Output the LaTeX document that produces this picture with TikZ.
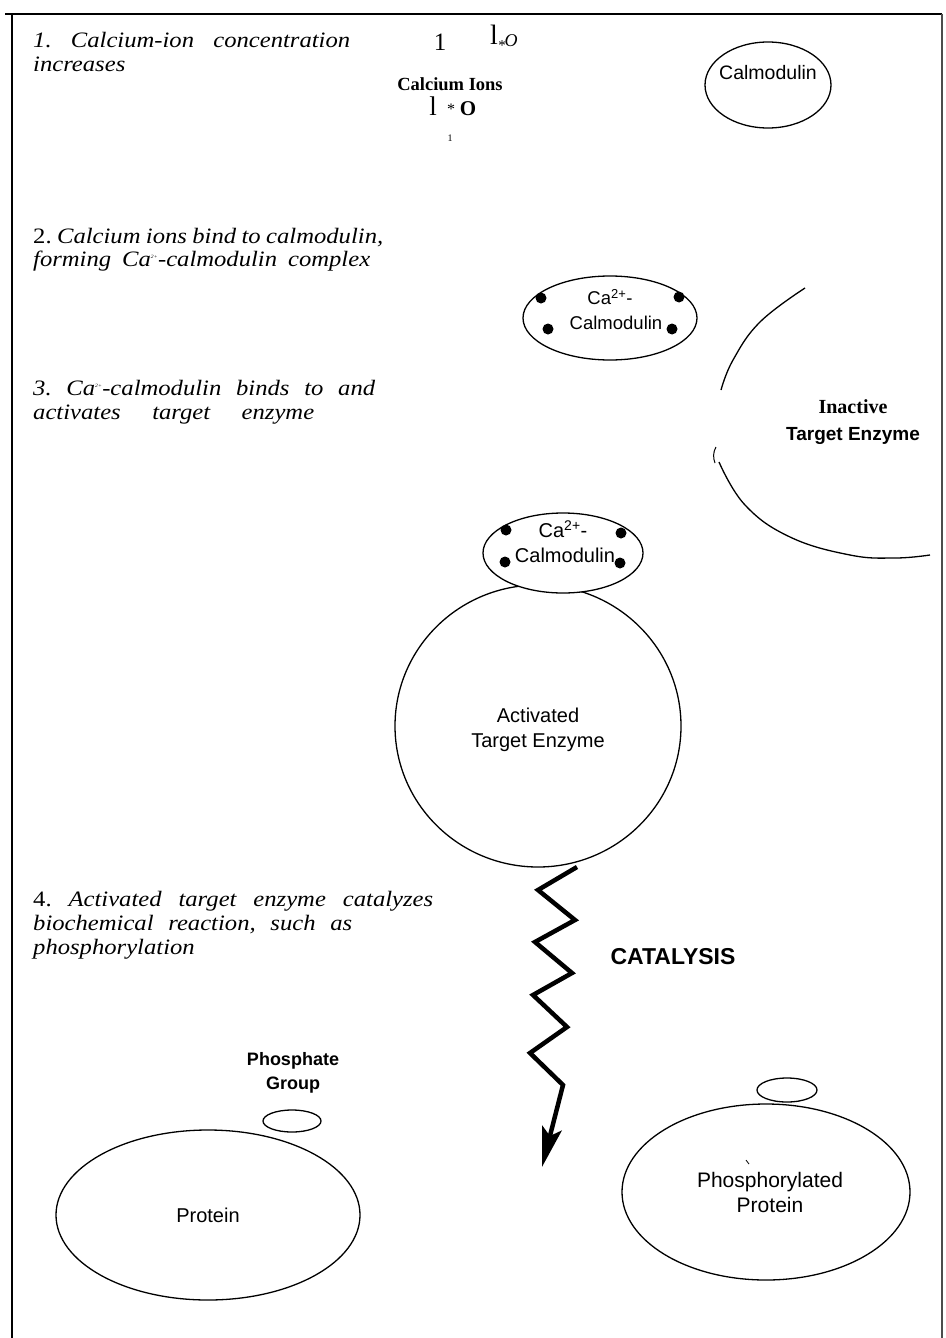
\documentclass[tikz,border=0pt]{standalone}
\usepackage{fontspec}
\setmainfont{Liberation Serif}
\setsansfont{Liberation Sans}
\newfontfamily\stepfont[FakeStretch=1.12]{Liberation Serif}
\usetikzlibrary{shapes.geometric,arrows.meta}
\newcommand{\wline}[2]{\makebox[#1pt][s]{#2}}
\frenchspacing
\begin{document}
\begin{tikzpicture}[x=1pt,y=-1pt,
  stepline/.style={anchor=base west, inner sep=0, font=\stepfont\fontsize{22}{23}\selectfont\itshape\frenchspacing},
  lbl/.style={font=\sffamily\fontsize{18.5}{24}\selectfont, inner sep=0, align=center},
  blob/.style={draw, line width=1.3, ellipse, inner sep=0, fill=white},
  dotc/.style={circle, fill=black, inner sep=0, minimum size=11},
  frameline/.style={line width=1.2}
]
\useasboundingbox (0,0) rectangle (945,1338);
% frame
\coordinate (tl) at (5,14); \coordinate (tr) at (942,14);
\coordinate (lt) at (12,14); \coordinate (lb) at (12,1338);
\coordinate (rb) at (942,1338);
\draw[frameline] (tl) -- (tr);
\draw[frameline] (lt) -- (lb);
\draw[frameline, black!70] (tr) -- (rb);

% step texts
\node[stepline] (s1a) at (33,48) {\wline{317}{1. Calcium-ion concentration}};
\node[stepline] (s1b) at (33,71) {increases};
\node[stepline] (s2a) at (33,243) {\wline{350}{\upshape 2.\itshape{} Calcium ions bind to calmodulin,}};
\node[stepline] (s2b) at (33,266) {\wline{337}{forming Ca\textsuperscript{\tiny 2+}-calmodulin complex}};
\node[stepline] (s3a) at (33,395) {\wline{342}{3. Ca\textsuperscript{\tiny 2+}-calmodulin binds to and}};
\node[stepline] (s3b) at (33,419) {\wline{281}{activates target enzyme}};
\node[stepline] (s4a) at (33,906) {\wline{400}{\upshape 4.\itshape{} Activated target enzyme catalyzes}};
\node[stepline] (s4b) at (33,930) {\wline{319}{biochemical reaction, such as}};
\node[stepline] (s4c) at (33,954) {phosphorylation};

% calcium ions
\node[anchor=base, inner sep=0, font=\fontsize{25}{25}\selectfont] (i1) at (440,51) {1};
\node[anchor=base, inner sep=0, font=\fontsize{28}{28}\selectfont] (i2) at (494,45) {l};
\node[anchor=base, inner sep=0, font=\fontsize{15}{15}\selectfont] (i3) at (502,51) {*};
\node[anchor=base, inner sep=0, font=\fontsize{18}{18}\selectfont\itshape] (i4) at (511,47) {O};
\node[anchor=base, inner sep=0, font=\fontsize{18.5}{18}\selectfont\bfseries] (cions) at (450,90) {Calcium Ions};
\node[anchor=base, inner sep=0, font=\fontsize{27}{27}\selectfont] (i5) at (433,115) {l};
\node[anchor=base, inner sep=0, font=\fontsize{16}{16}\selectfont] (i6) at (451,114) {*};
\node[anchor=base, inner sep=0, font=\fontsize{21}{21}\selectfont\bfseries] (i7) at (468,115) {O};
\node[anchor=base, inner sep=0, font=\fontsize{10}{10}\selectfont] (i8) at (450,141) {1};

% calmodulin
\node[blob, minimum width=126, minimum height=86] (calm) at (768,85) {};
\node[lbl, font=\sffamily\fontsize{19.5}{24}\selectfont] (calmt) at (768,73) {Calmodulin};

% Ca-calmodulin complex 1
\node[blob, minimum width=174, minimum height=84] (cc1) at (610,318) {};
\node[lbl] (cc1a) at (610,297) {Ca\textsuperscript{2+}-};
\node[lbl] (cc1b) at (616,323) {Calmodulin};
\node[dotc] (d1) at (541,298) {};
\node[dotc] (d2) at (679,297) {};
\node[dotc] (d3) at (548,329) {};
\node[dotc] (d4) at (672,329) {};

% inactive target enzyme
\draw[line width=1.3] plot[smooth, tension=0.7] coordinates {(805,288) (760,322) (733,360) (721,390)};
\draw[line width=1] (716,447) .. controls (713,452) and (713,458) .. (715,463);
\draw[line width=1.3] plot[smooth, tension=0.7] coordinates {(719,462) (745,505) (790,537) (850,555) (895,558) (930,555)};
\node[anchor=base, inner sep=0, font=\fontsize{20}{20}\selectfont\bfseries] (inact) at (853,413) {Inactive};
\node[anchor=base, inner sep=0, font=\sffamily\bfseries\fontsize{19}{19}\selectfont] (inact2) at (853,440) {Target\ Enzyme};

% activated target enzyme with complex
\node[blob, minimum width=286, minimum height=282] (act) at (538,726) {};
\node[lbl, font=\sffamily\fontsize{20}{25}\selectfont] (actt) at (538,730) {Activated\\Target Enzyme};
\node[blob, minimum width=160, minimum height=80] (cc2) at (563,553) {};
\node[lbl, font=\sffamily\fontsize{20}{24}\selectfont] (cc2a) at (563,529) {Ca\textsuperscript{2+}-};
\node[lbl, font=\sffamily\fontsize{20}{24}\selectfont] (cc2b) at (565,555) {Calmodulin};
\node[dotc] (e1) at (506,530) {};
\node[dotc] (e2) at (621,533) {};
\node[dotc] (e3) at (505,562) {};
\node[dotc] (e4) at (620,563) {};

% catalysis zigzag
\coordinate (zend) at (542,1167);
\draw[line width=4.5, line join=miter, -{Stealth[length=40, width=20, inset=8]}]
  (577,867) -- (538,890) -- (575,920) -- (535,942) -- (572,973) -- (533,995)
  -- (567,1027) -- (530,1053) -- (563,1085) -- (zend);
\node[anchor=base, inner sep=0, font=\sffamily\bfseries\fontsize{23}{23}\selectfont] (cat) at (673,964) {CATALYSIS};

% phosphate group and proteins
\node[font=\sffamily\bfseries\fontsize{18}{24}\selectfont, align=center, inner sep=0] (pg) at (293,1073) {Phosphate\\Group};
\node[blob, minimum width=58, minimum height=22] (phos) at (292,1121) {};
\node[blob, minimum width=304, minimum height=170] (prot) at (208,1215) {};
\node[lbl, font=\sffamily\fontsize{20}{24}\selectfont] (prott) at (208,1215) {Protein};
\node[blob, minimum width=288, minimum height=176] (pprot) at (766,1192) {};
\node[blob, minimum width=60, minimum height=24] (pp) at (787,1090) {};
\node[lbl, font=\sffamily\fontsize{21}{25}\selectfont] (pprott) at (770,1192) {Phosphorylated\\Protein};
\draw[line width=0.8] (746,1160) -- (749,1164);
\end{tikzpicture}
\end{document}
